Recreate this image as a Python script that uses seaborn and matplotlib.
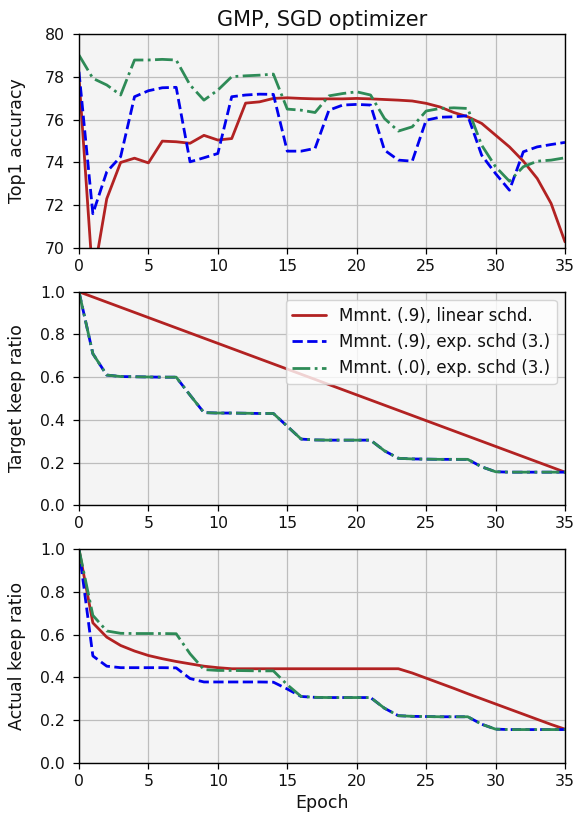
import numpy as np
import pandas as pd
import matplotlib
matplotlib.use("Agg")
import matplotlib.pyplot as plt
import seaborn as sns

epochs = list(range(36))

# Top1 accuracy
acc_lin_9 = [78.0, 68.5, 72.3, 74.0, 74.2, 73.98, 75.0, 74.97, 74.9, 75.27, 75.05, 75.12,
             76.78, 76.84, 77.0, 77.03, 77.0, 76.98, 76.98, 76.98, 77.0, 76.98, 76.95, 76.92,
             76.88, 76.77, 76.6, 76.34, 76.14, 75.83, 75.28, 74.73, 74.06, 73.25, 72.08, 70.28]
acc_exp_9 = [78.25, 71.6, 73.56, 74.27, 77.08, 77.36, 77.5, 77.52, 74.03, 74.22, 74.42, 77.08,
             77.16, 77.2, 77.19, 74.53, 74.53, 74.66, 76.45, 76.69, 76.72, 76.69, 74.58, 74.11,
             74.06, 75.98, 76.12, 76.14, 76.19, 74.34, 73.48, 72.7, 74.5, 74.73, 74.84, 74.94]
acc_exp_0 = [79.03, 77.94, 77.63, 77.16, 78.8, 78.8, 78.83, 78.8, 77.63, 76.92, 77.39, 78.02,
             78.06, 78.09, 78.14, 76.5, 76.45, 76.34, 77.12, 77.23, 77.31, 77.16, 76.06, 75.47,
             75.67, 76.41, 76.53, 76.56, 76.53, 74.81, 73.8, 73.12, 73.8, 74.06, 74.11, 74.22]

# Target keep ratio
target_lin_epochs = [0, 35]
target_lin = [1.0, 0.155]
target_exp = [1.0, 0.71, 0.61, 0.603, 0.602, 0.601, 0.60, 0.60, 0.516, 0.434, 0.432, 0.432,
              0.431, 0.43, 0.43, 0.37, 0.31, 0.306, 0.305, 0.305, 0.305, 0.305, 0.255, 0.22,
              0.217, 0.216, 0.215, 0.215, 0.215, 0.18, 0.157, 0.155, 0.155, 0.155, 0.155, 0.155]

# Actual keep ratio
actual_lin_9 = [1.0, 0.655, 0.588, 0.549, 0.523, 0.502, 0.487, 0.474, 0.463, 0.452, 0.445, 0.44,
                0.44, 0.44, 0.44, 0.44, 0.44, 0.44, 0.44, 0.44, 0.44, 0.44, 0.44, 0.44,
                0.42, 0.396, 0.372, 0.348, 0.323, 0.299, 0.275, 0.251, 0.227, 0.203, 0.179, 0.157]
actual_exp_9 = [1.0, 0.50, 0.452, 0.445, 0.445, 0.445, 0.445, 0.444, 0.394, 0.378, 0.378, 0.378,
                0.378, 0.378, 0.377, 0.345, 0.31, 0.306, 0.305, 0.305, 0.305, 0.305, 0.255, 0.22,
                0.217, 0.216, 0.215, 0.215, 0.215, 0.18, 0.157, 0.155, 0.155, 0.155, 0.155, 0.155]
actual_exp_0 = [1.0, 0.69, 0.617, 0.606, 0.605, 0.605, 0.605, 0.604, 0.51, 0.436, 0.432, 0.432,
                0.431, 0.43, 0.43, 0.365, 0.31, 0.306, 0.305, 0.305, 0.305, 0.305, 0.255, 0.22,
                0.217, 0.216, 0.215, 0.215, 0.215, 0.18, 0.157, 0.155, 0.155, 0.155, 0.155, 0.155]

labels = ["Mmnt. (.9), linear schd.", "Mmnt. (.9), exp. schd (3.)", "Mmnt. (.0), exp. schd (3.)"]
colors = ["#b22222", "#0000ee", "#2e8b57"]
styles = ["-", "--", "-."]

sns.set_style("ticks")
plt.rcParams['font.family'] = ['DejaVu Sans']
plt.rcParams['text.color'] = '#111111'
plt.rcParams['axes.labelcolor'] = '#111111'
plt.rcParams['xtick.color'] = '#111111'
plt.rcParams['ytick.color'] = '#111111'

fig, axes = plt.subplots(3, 1, figsize=(5.79, 8.19), dpi=100)
fig.subplots_adjust(left=0.1364, right=0.9758, top=0.958, bottom=0.0688, hspace=0.206)

lw = 2.0
TICK = 11.3
LAB = 12.5

def style_ax(ax):
    ax.set_facecolor("#f4f4f4")
    ax.grid(True, color="#bdbdbd", linewidth=0.9)
    ax.set_axisbelow(True)
    for s in ax.spines.values():
        s.set_color("black")
        s.set_linewidth(1.0)
    ax.tick_params(axis="both", labelsize=TICK, length=4.5, width=0.9, color="black")
    ax.tick_params(axis="y", pad=5.5)
    ax.tick_params(axis="x", pad=3.5)
    ax.set_xlim(0, 35)
    ax.set_xticks(range(0, 36, 5))

# Top panel
ax = axes[0]
style_ax(ax)
for y, c, ls, lab in zip([acc_lin_9, acc_exp_9, acc_exp_0], colors, styles, labels):
    sns.lineplot(x=epochs, y=y, ax=ax, color=c, linestyle=ls, linewidth=lw, label=lab, legend=False)
ax.set_ylim(70, 80)
ax.set_yticks(range(70, 81, 2))
ax.yaxis.set_major_formatter(matplotlib.ticker.FormatStrFormatter("%d"))
ax.set_ylabel("Top1 accuracy", fontsize=LAB)
ax.set_title("GMP, SGD optimizer", fontsize=15, pad=6)

# Middle panel
ax = axes[1]
style_ax(ax)
sns.lineplot(x=target_lin_epochs, y=target_lin, ax=ax, color=colors[0], linestyle=styles[0],
             linewidth=lw, label=labels[0])
sns.lineplot(x=epochs, y=target_exp, ax=ax, color=colors[1], linestyle=styles[1],
             linewidth=lw, label=labels[1])
sns.lineplot(x=epochs, y=target_exp, ax=ax, color=colors[2], linestyle=styles[2],
             linewidth=lw, label=labels[2])
ax.set_ylim(0, 1.0)
ax.set_yticks(np.arange(0, 1.01, 0.2))
ax.yaxis.set_major_formatter(matplotlib.ticker.FormatStrFormatter("%.1f"))
ax.set_ylabel("Target keep ratio", fontsize=LAB)
ax.legend(loc="upper right", fontsize=12, framealpha=0.8, edgecolor="#cccccc", fancybox=True)

# Bottom panel
ax = axes[2]
style_ax(ax)
for y, c, ls, lab in zip([actual_lin_9, actual_exp_9, actual_exp_0], colors, styles, labels):
    sns.lineplot(x=epochs, y=y, ax=ax, color=c, linestyle=ls, linewidth=lw, label=lab, legend=False)
ax.set_ylim(0, 1.0)
ax.set_yticks(np.arange(0, 1.01, 0.2))
ax.yaxis.set_major_formatter(matplotlib.ticker.FormatStrFormatter("%.1f"))
ax.set_ylabel("Actual keep ratio", fontsize=LAB)
ax.set_xlabel("Epoch", fontsize=LAB)

for a in axes:
    a.yaxis.set_label_coords(-0.109, 0.5)

fig.savefig("out.png", dpi=100)
